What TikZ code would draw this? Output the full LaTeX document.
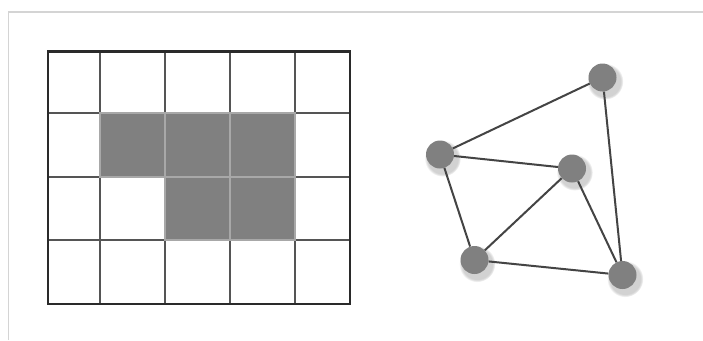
\documentclass[tikz,border=0pt]{standalone}
\usetikzlibrary{shadows}
\definecolor{framegray}{HTML}{D4D4D4}
\definecolor{outerline}{HTML}{2A2A2A}
\definecolor{gridline}{HTML}{555555}
\definecolor{cellfill}{HTML}{808080}
\definecolor{cellborder}{HTML}{A8A8A8}
\definecolor{edgecol}{HTML}{444444}
\tikzset{
  frameline/.style={framegray, line width=1.5pt},
  gridl/.style={gridline, line width=2pt},
  outerbox/.style={outerline, line width=2.4pt},
  graycell/.style={fill=cellfill, draw=cellborder, line width=1.6pt},
  vertex/.style={circle, fill=cellfill, inner sep=0pt, minimum size=28pt,
    circular drop shadow={shadow xshift=2pt, shadow yshift=-3pt, shadow scale=1.3, opacity=0.35}},
  link/.style={edgecol, line width=2pt}
}
\begin{document}
\begin{tikzpicture}[x=1pt,y=-1pt]
\useasboundingbox (0,0) rectangle (703,340);
\fill[white] (0,0) rectangle (703,340);
\draw[frameline] (8.5,340) -- (8.5,12) -- (703,12);
% grid lines
\foreach \x in {100,165,230,295} \draw[gridl] (\x,51.5) -- (\x,304);
\foreach \y in {113,177,240} \draw[gridl] (48,\y) -- (350,\y);
% gray cells
\draw[graycell] (100,113) rectangle (165,177);
\draw[graycell] (165,113) rectangle (230,177);
\draw[graycell] (230,113) rectangle (295,177);
\draw[graycell] (165,177) rectangle (230,240);
\draw[graycell] (230,177) rectangle (295,240);
% outer box
\draw[outerbox] (48,51.5) rectangle (350,304);
% graph
\node[vertex] (v1) at (602.5,77.5) {};
\node[vertex] (v2) at (440,154.5) {};
\node[vertex] (v3) at (572,168.5) {};
\node[vertex] (v4) at (474.5,260) {};
\node[vertex] (v5) at (622.5,275) {};
\draw[link] (v1) -- (v2);
\draw[link] (v2) -- (v3);
\draw[link] (v2) -- (v4);
\draw[link] (v3) -- (v4);
\draw[link] (v3) -- (v5);
\draw[link] (v4) -- (v5);
\draw[link] (v1) -- (v5);
\end{tikzpicture}
\end{document}
